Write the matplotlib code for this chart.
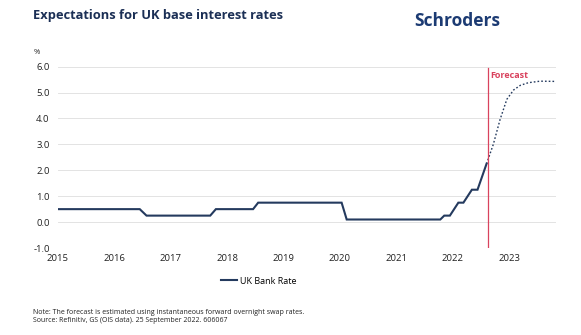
import matplotlib.pyplot as plt

# decimal-year positions
hist_x = [2015.0, 2016.45, 2016.57, 2017.70, 2017.80, 2018.46, 2018.55, 2020.03, 2020.12,
          2021.78, 2021.85, 2021.95, 2022.10, 2022.19, 2022.34, 2022.44, 2022.60]
hist_y = [0.5, 0.5, 0.25, 0.25, 0.5, 0.5, 0.75, 0.75, 0.1,
          0.1, 0.25, 0.25, 0.75, 0.75, 1.25, 1.25, 2.25]

fc_x = [2022.60, 2022.72, 2022.84, 2022.96, 2023.08, 2023.20, 2023.34, 2023.55, 2023.85]
fc_y = [2.25, 3.0, 3.96, 4.74, 5.10, 5.28, 5.38, 5.44, 5.43]

forecast_start = 2022.63
years = list(range(2015, 2024))
yticks = [-1, 0, 1, 2, 3, 4, 5, 6]

navy = "#243a5e"
red = "#d9435e"

plt.rcParams['font.family'] = ['Open Sans', 'DejaVu Sans']

fig = plt.figure(figsize=(5.81, 3.35), dpi=100)
ax = fig.add_axes([0.0998, 0.2597, 0.857, 0.5413])

ax.plot(hist_x, hist_y, color=navy, lw=1.5, label="UK Bank Rate", solid_joinstyle="miter")
ax.plot(fc_x, fc_y, color=navy, lw=1.0, ls=(0, (1.2, 1.5)))
ax.axvline(forecast_start, color=red, lw=0.9, ymin=0, ymax=0.99)
ax.text(forecast_start + 0.04, 5.85, "Forecast", color=red, fontsize=6.5, fontweight="bold",
        va="top", ha="left")

ax.set_xlim(2015, 2023.83)
ax.set_ylim(-1, 6)
ax.set_yticks(yticks)
ax.set_yticklabels([f"{v:.1f}" for v in yticks])
ax.set_xticks(years)
ax.set_xticklabels([str(y) for y in years])
ax.tick_params(length=0, labelsize=6.8, colors="#222222", pad=6)
ax.tick_params(axis="x", pad=4)
ax.grid(axis="y", color="#e3e3e3", lw=0.7)
ax.set_axisbelow(True)
for s in ax.spines.values():
    s.set_visible(False)

fig.text(33 / 581, 1 - 15 / 335, "Expectations for UK base interest rates", fontsize=9.3,
         fontweight="bold", color="#1b2f55", va="center", ha="left")
fig.text(500 / 581, 1 - 21 / 335, "Schroders", fontsize=12.5, fontweight="bold",
         color="#1c3b73", va="center", ha="right")
fig.text(34 / 581, 1 - 52 / 335, "%", fontsize=5.5, color="#222222", va="center", ha="left")

fig.legend(loc="center", bbox_to_anchor=(0.445, 1 - 281 / 335), frameon=False, fontsize=6.5,
           handlelength=1.8, handletextpad=0.3)

fig.text(33 / 581, 1 - 312 / 335,
         "Note: The forecast is estimated using instantaneous forward overnight swap rates.",
         fontsize=5.0, color="#222222", va="center", ha="left")
fig.text(33 / 581, 1 - 321 / 335, "Source: Refinitiv, GS (OIS data). 25 September 2022. 606067",
         fontsize=5.0, color="#222222", va="center", ha="left")

fig.savefig("out.png", dpi=100)
